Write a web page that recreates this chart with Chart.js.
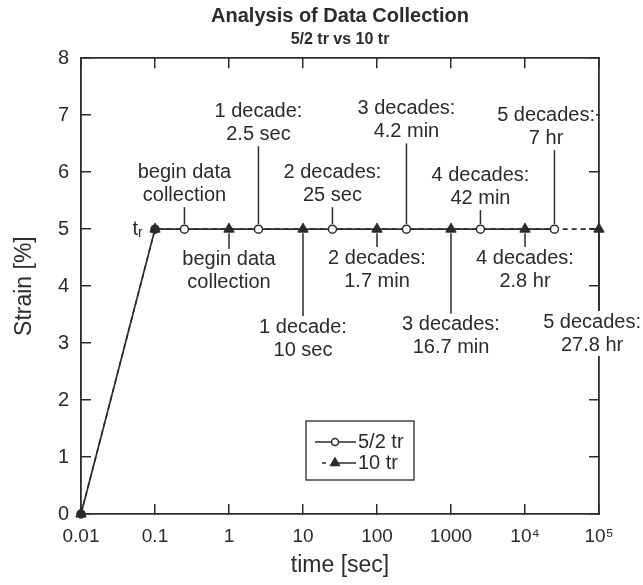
<!DOCTYPE html>
<html>
<head>
<meta charset="utf-8">
<script src="https://cdn.jsdelivr.net/npm/chart.js@4.4.0/dist/chart.umd.min.js"></script>
<style>
  html, body { margin: 0; padding: 0; background: #fff; }
  #wrap { width: 643px; height: 585px; }
</style>
</head>
<body>
<div id="wrap"><canvas id="chart"></canvas></div>
<script>
// Analysis of data collection: strain vs time, 5/2 tr against 10 tr

const decadeTicks = [0.01, 0.1, 1, 10, 100, 1000, 10000, 100000];
const decadeLabels = ['0.01', '0.1', '1', '10', '100', '1000', '10\u2074', '10\u2075'];
const strainTicks = [0, 1, 2, 3, 4, 5, 6, 7, 8];

const fiveHalfTimes = [0.01, 0.1, 0.25, 2.5, 25, 250, 2500, 25000];
const fiveHalfStrain = [0, 5, 5, 5, 5, 5, 5, 5];
const tenTimes = [0.01, 0.1, 1, 10, 100, 1000, 10000, 100000];
const tenStrain = [0, 5, 5, 5, 5, 5, 5, 5];

// callouts: time of the marked point, text, strain level of the first text line
const noteTimes = [0.25, 2.5, 25, 250, 2500, 25000, 1, 10, 100, 1000, 10000, 100000];
const noteTexts = [
    ['begin data', 'collection'],
    ['1 decade:', '2.5 sec'],
    ['2 decades:', '25 sec'],
    ['3 decades:', '4.2 min'],
    ['4 decades:', '42 min'],
    ['5 decades:', '7 hr'],
    ['begin data', 'collection'],
    ['1 decade:', '10 sec'],
    ['2 decades:', '1.7 min'],
    ['3 decades:', '16.7 min'],
    ['4 decades:', '2.8 hr'],
    ['5 decades:', '27.8 hr']
];
const noteLevels = [6.0, 7.07, 6.0, 7.12, 5.95, 7.0, 4.46, 3.28, 4.49, 3.32, 4.49, 3.37];

const ink = '#2b2b2b';
const family = '"Liberation Sans", Arial, Helvetica, sans-serif';
Chart.defaults.font.family = family;
Chart.defaults.color = ink;

const toPoints = (xs, ys) => xs.map((t, i) => ({ x: t, y: ys[i] }));

const calloutPlugin = {
    id: 'callouts',
    afterDatasetsDraw(chart) {
        const { ctx, chartArea, scales: { x, y } } = chart;
        const y5 = y.getPixelForValue(5);
        const lineGap = 23;

        ctx.save();
        ctx.font = '20px ' + family;
        ctx.textAlign = 'center';
        ctx.textBaseline = 'middle';
        ctx.strokeStyle = ink;
        ctx.lineWidth = 1.5;

        noteTimes.forEach((t, i) => {
            const px = x.getPixelForValue(t);
            const lines = noteTexts[i];
            const above = noteLevels[i] > 5;
            const firstY = y.getPixelForValue(noteLevels[i]);
            const lastY = firstY + (lines.length - 1) * lineGap;
            const w = Math.max(...lines.map(s => ctx.measureText(s).width));
            const limit = above ? chartArea.right - 4 : chart.width - 2;
            const cx = Math.min(px, limit - w / 2);

            ctx.beginPath();
            if (above) {
                ctx.moveTo(px, y5 - 5);
                ctx.lineTo(px, lastY + 12);
            } else {
                ctx.moveTo(px, y5 + 4);
                ctx.lineTo(px, firstY - 11);
            }
            ctx.stroke();

            ctx.fillStyle = '#fff';
            ctx.fillRect(cx - w / 2 - 1, firstY - 11, w + 2, lastY - firstY + 22);
            ctx.fillStyle = ink;
            lines.forEach((s, k) => ctx.fillText(s, cx, firstY + k * lineGap));
        });

        // t_r label next to the end of the ramp
        const rx = x.getPixelForValue(0.1);
        ctx.textAlign = 'right';
        ctx.fillText('t', rx - 17, y5);
        ctx.textAlign = 'left';
        ctx.font = '14px ' + family;
        ctx.fillText('r', rx - 17, y5 + 4);

        // legend box
        const bx = chartArea.left + 225, by = 421, bw = 108, bh = 59;
        ctx.lineWidth = 1.3;
        ctx.strokeRect(bx, by, bw, bh);
        ctx.font = '20px ' + family;
        chart.data.datasets.forEach((ds, i) => {
            const ly = by + 21 + i * 21;
            const tri = ds.pointStyle === 'triangle';
            ctx.save();
            ctx.lineWidth = ds.borderWidth;
            ctx.beginPath();
            if (tri) {
                // short dash, then the rest of the sample
                ctx.moveTo(bx + 16, ly);
                ctx.lineTo(bx + 20, ly);
                ctx.moveTo(bx + 30, ly);
                ctx.lineTo(bx + 50, ly);
            } else {
                ctx.moveTo(bx + 9, ly);
                ctx.lineTo(bx + 50, ly);
            }
            ctx.stroke();
            ctx.restore();
            ctx.fillStyle = tri ? ink : '#fff';
            ctx.strokeStyle = ink;
            ctx.lineWidth = 1.5;
            Chart.helpers.drawPoint(ctx, {
                pointStyle: ds.pointStyle,
                radius: tri ? 5 : 3.5,
                borderWidth: 1.5
            }, bx + 29, ly);
            ctx.fillStyle = ink;
            ctx.textAlign = 'left';
            ctx.fillText(ds.label, bx + 52, ly);
        });
        ctx.restore();
    }
};

new Chart(document.getElementById('chart'), {
    type: 'line',
    data: {
        datasets: [
            {
                label: '5/2 tr',
                data: toPoints(fiveHalfTimes, fiveHalfStrain),
                borderColor: ink,
                borderWidth: 1.6,
                pointStyle: 'circle',
                pointRadius: 4,
                pointBorderWidth: 1.5,
                pointBorderColor: ink,
                pointBackgroundColor: c => (c.dataIndex < 2 ? ink : '#fff'),
                tension: 0,
                clip: false
            },
            {
                label: '10 tr',
                data: toPoints(tenTimes, tenStrain),
                borderColor: ink,
                borderWidth: 1.6,
                borderDash: [5, 4],
                pointStyle: 'triangle',
                pointRadius: 6,
                pointBorderWidth: 1,
                pointBorderColor: ink,
                pointBackgroundColor: ink,
                tension: 0,
                clip: false
            }
        ]
    },
    options: {
        responsive: true,
        maintainAspectRatio: false,
        animation: false,
        layout: { padding: 0 },
        plugins: {
            legend: { display: false },
            tooltip: { enabled: false },
            title: {
                display: true,
                text: 'Analysis of Data Collection',
                fullSize: false,
                color: ink,
                font: { size: 20, weight: 'bold' },
                padding: { top: 4, bottom: 2 }
            },
            subtitle: {
                display: true,
                text: '5/2 tr vs 10 tr',
                fullSize: false,
                color: ink,
                font: { size: 16, weight: 'bold' },
                padding: { top: 0, bottom: 9 }
            }
        },
        scales: {
            x: {
                type: 'logarithmic',
                position: 'bottom',
                min: 0.01,
                max: 100000,
                afterBuildTicks: axis => { axis.ticks = decadeTicks.map(v => ({ value: v })); },
                afterFit: axis => { axis.height = 71; },
                ticks: {
                    callback: (v, i) => decadeLabels[i],
                    font: { size: 19 },
                    color: ink,
                    padding: 21,
                    maxRotation: 0,
                    autoSkip: false
                },
                grid: { drawOnChartArea: false, tickLength: -10, color: ink, lineWidth: 1.5 },
                border: { color: ink, width: 1.8 },
                title: { display: true, text: 'time [sec]', font: { size: 23 }, color: ink, padding: { top: 0, bottom: 6 } }
            },
            x2: {
                type: 'logarithmic',
                position: 'top',
                min: 0.01,
                max: 100000,
                afterBuildTicks: axis => { axis.ticks = decadeTicks.map(v => ({ value: v })); },
                afterFit: axis => { axis.height = 0; },
                ticks: { display: false },
                grid: { drawOnChartArea: false, tickLength: -10, color: ink, lineWidth: 1.5 },
                border: { color: ink, width: 1.8 }
            },
            y: {
                type: 'linear',
                position: 'left',
                min: 0,
                max: 8,
                afterBuildTicks: axis => { axis.ticks = strainTicks.map(v => ({ value: v })); },
                afterFit: axis => { axis.width = 81; },
                ticks: { font: { size: 20 }, color: ink, padding: 22 },
                grid: { drawOnChartArea: false, tickLength: -10, color: ink, lineWidth: 1.5 },
                border: { color: ink, width: 1.8 },
                title: { display: true, text: 'Strain [%]', font: { size: 23 }, color: ink, padding: { top: 11, bottom: 0 } }
            },
            y2: {
                type: 'linear',
                position: 'right',
                min: 0,
                max: 8,
                afterBuildTicks: axis => { axis.ticks = strainTicks.map(v => ({ value: v })); },
                afterFit: axis => { axis.width = 44; },
                ticks: { display: false },
                grid: { drawOnChartArea: false, tickLength: -10, color: ink, lineWidth: 1.5 },
                border: { color: ink, width: 1.8 }
            }
        }
    },
    plugins: [calloutPlugin]
});
</script>
</body>
</html>
